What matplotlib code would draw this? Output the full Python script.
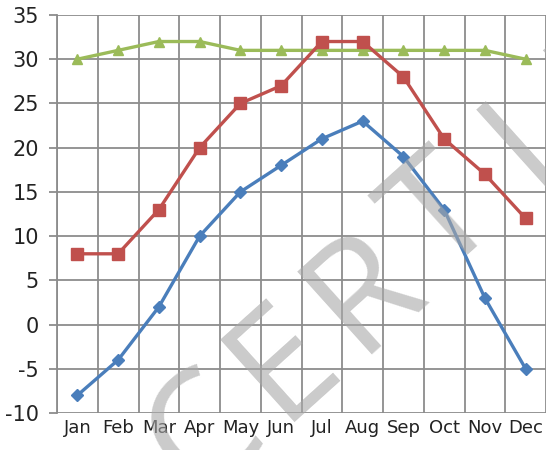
import matplotlib
matplotlib.use("Agg")
import matplotlib.pyplot as plt
from matplotlib import font_manager

months = ["Jan", "Feb", "Mar", "Apr", "May", "Jun", "Jul", "Aug", "Sep", "Oct", "Nov", "Dec"]
blue_vals = [-8, -4, 2, 10, 15, 18, 21, 23, 19, 13, 3, -5]
red_vals = [8, 8, 13, 20, 25, 27, 32, 32, 28, 21, 17, 12]
green_vals = [30, 31, 32, 32, 31, 31, 31, 31, 31, 31, 31, 30]
y_ticks = [-10, -5, 0, 5, 10, 15, 20, 25, 30, 35]
watermark = "CERTIFIED"

installed = {f.name for f in font_manager.fontManager.ttflist}
wm_font = "Open Sans" if "Open Sans" in installed else "DejaVu Sans"


def entry():
    fig = plt.figure(figsize=(5.46, 4.5), dpi=100)
    ax = fig.add_axes([0.1044, 0.0822, 0.8956, 0.8845])

    x = list(range(len(months)))
    ax.plot(x, green_vals, color="#9BBB59", lw=2.4, marker="^", ms=7, zorder=3)
    ax.plot(x, red_vals, color="#C0504D", lw=2.4, marker="s", ms=9, zorder=4)
    ax.plot(x, blue_vals, color="#4A7EBB", lw=2.4, marker="D", ms=6, zorder=5)

    ax.set_xlim(-0.5, len(months) - 0.5)
    ax.set_ylim(-10, 35)
    ax.set_yticks(y_ticks)
    ax.set_yticklabels([str(v) for v in y_ticks], fontsize=15)
    ax.set_xticks(x)
    ax.set_xticklabels(months, fontsize=13)
    ax.set_xticks([i - 0.5 for i in range(len(months) + 1)], minor=True)

    ax.grid(True, which="major", axis="y", color="#8c8c8c", lw=1.3)
    ax.grid(True, which="minor", axis="x", color="#8c8c8c", lw=1.3)
    ax.tick_params(axis="y", length=6, width=1.3, color="#8c8c8c", pad=7, labelcolor="#222222")
    ax.tick_params(axis="x", which="major", length=0, pad=4, labelcolor="#222222")
    ax.tick_params(axis="x", which="minor", length=0)
    for side in ["top", "right", "bottom"]:
        ax.spines[side].set_visible(False)
    ax.spines["left"].set_color("#8c8c8c")
    ax.spines["left"].set_linewidth(1.3)
    ax.set_axisbelow(True)

    # faint watermark, one widely spaced letter at a time along a diagonal
    cx, cy = 205, 435
    for i, ch in enumerate(watermark):
        px, py = cx + i * 80, cy - i * 72
        fig.text(px / 546, 1 - py / 450, ch, fontsize=112, color="#a8a8a8", alpha=0.6,
                 family=wm_font, rotation=42, rotation_mode="anchor",
                 ha="center", va="center", zorder=10)

    fig.savefig("out.png", dpi=100)


if __name__ == '__main__':
    entry()
